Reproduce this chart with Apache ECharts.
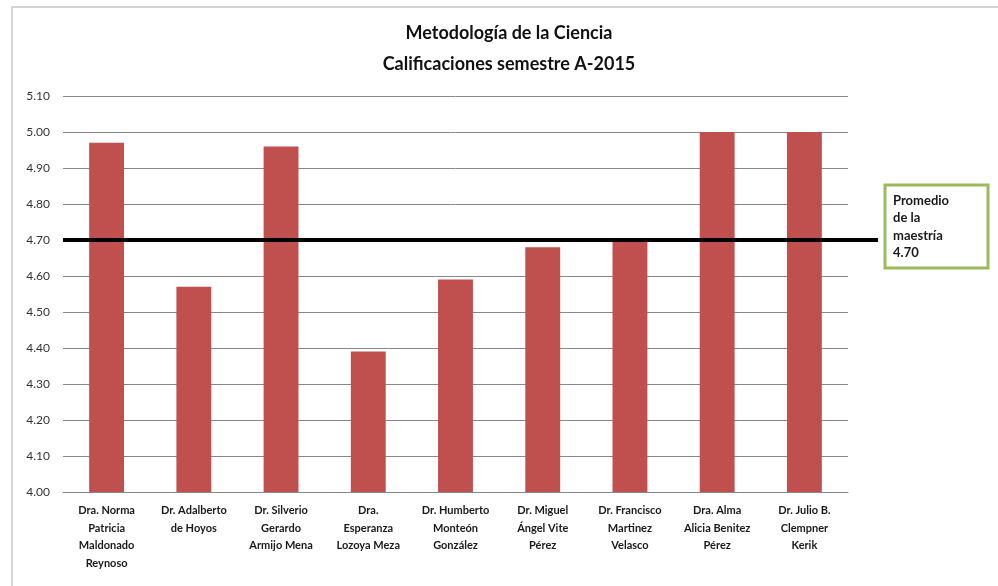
<!DOCTYPE html>
<html>
<head>
<meta charset="utf-8">
<script src="https://cdn.jsdelivr.net/npm/echarts@6/dist/echarts.min.js"></script>
<style>
  html, body { margin: 0; padding: 0; background: #fff; }
  #main { width: 998px; height: 586px; }
</style>
</head>
<body>
<div id="main"></div>
<script>
// profesores (etiquetas del eje x)
var profesores = [
    'Dra. Norma\nPatricia\nMaldonado\nReynoso',
    'Dr. Adalberto\nde Hoyos',
    'Dr. Silverio\nGerardo\nArmijo Mena',
    'Dra.\nEsperanza\nLozoya Meza',
    'Dr. Humberto\nMonteón\nGonzález',
    'Dr. Miguel\nÁngel Vite\nPérez',
    'Dr. Francisco\nMartinez\nVelasco',
    'Dra. Alma\nAlicia Benitez\nPérez',
    'Dr. Julio B.\nClempner\nKerik'
];
var calificaciones = [4.97, 4.57, 4.96, 4.39, 4.59, 4.68, 4.70, 5.00, 5.00];
var promedio = 4.70;
var promedioTexto = 'Promedio\nde la\nmaestría\n4.70';

var fontFamily = 'Lato, "Liberation Sans", sans-serif';

var chartDom = document.getElementById('main');
var myChart = echarts.init(chartDom);
var option;

option = {
    animation: false,
    title: {
        text: 'Metodología de la Ciencia\nCalificaciones semestre A-2015',
        left: 509,
        top: 18,
        textAlign: 'center',
        padding: 0,
        textStyle: {
            fontFamily: fontFamily,
            fontSize: 18,
            fontWeight: 'bold',
            color: '#111',
            lineHeight: 31
        }
    },
    grid: {
        left: 63,
        right: 150,
        top: 96,
        bottom: 94,
        containLabel: false
    },
    xAxis: {
        type: 'category',
        data: profesores,
        axisLine: { lineStyle: { color: '#888', width: 1 } },
        axisTick: { show: false },
        axisLabel: {
            interval: 0,
            margin: 10,
            fontFamily: fontFamily,
            fontSize: 11,
            fontWeight: 'bold',
            color: '#1a1a1a',
            lineHeight: 17.5
        }
    },
    yAxis: {
        type: 'value',
        min: 4.0,
        max: 5.1,
        interval: 0.1,
        axisLine: { show: false },
        axisTick: { show: false },
        splitLine: { lineStyle: { color: '#888', width: 1 } },
        axisLabel: {
            margin: 13,
            fontFamily: fontFamily,
            fontSize: 12,
            color: '#333',
            formatter: function (v) { return v.toFixed(2); }
        }
    },
    series: [
        {
            type: 'bar',
            data: calificaciones,
            barWidth: '40%',
            itemStyle: { color: '#c0504d' },
            markLine: {
                silent: true,
                symbol: 'none',
                label: { show: false },
                lineStyle: { color: '#000', width: 4, type: 'solid' },
                data: [{ yAxis: promedio }]
            }
        }
    ]
};

option && myChart.setOption(option);

// extensión de la línea del promedio fuera del área y el recuadro
var yProm = myChart.convertToPixel({ yAxisIndex: 0 }, promedio);
myChart.setOption({
    graphic: [
        {
            type: 'rect',
            shape: { x: 12, y: 7, width: 1100, height: 700 },
            style: { fill: 'none', stroke: '#c8c8c8', lineWidth: 1.5 },
            z: -1
        },
        {
            type: 'line',
            shape: { x1: 848, y1: yProm, x2: 878, y2: yProm },
            style: { stroke: '#000', lineWidth: 4 }
        },
        {
            type: 'rect',
            shape: { x: 885, y: 185, width: 103, height: 83 },
            style: { fill: '#fff', stroke: '#9bbb59', lineWidth: 3 }
        },
        {
            type: 'text',
            x: 893,
            y: 192,
            style: {
                text: promedioTexto,
                fontFamily: fontFamily,
                fontSize: 13,
                fontWeight: 'bold',
                fill: '#1a1a1a',
                lineHeight: 17.5
            }
        }
    ]
});
</script>
</body>
</html>
